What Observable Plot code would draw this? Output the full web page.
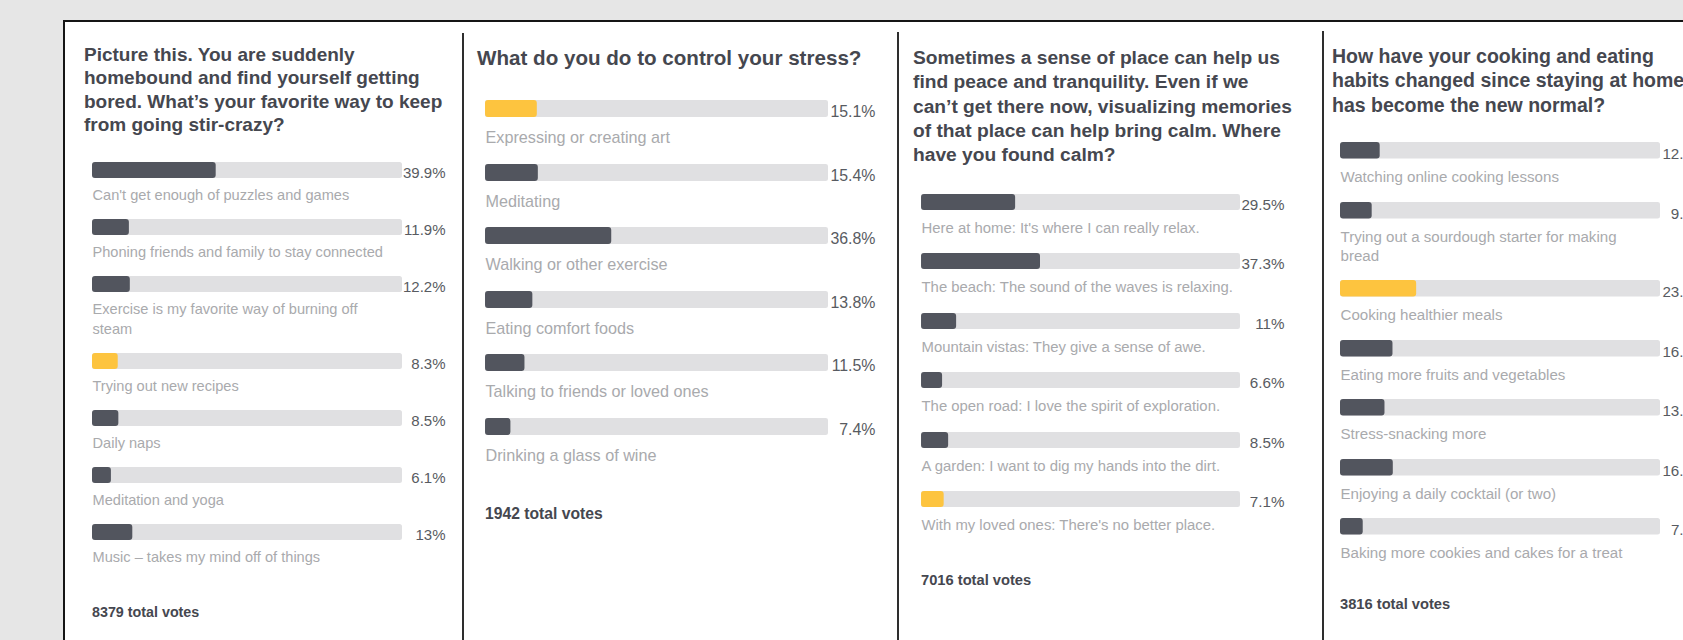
<!DOCTYPE html>
<html><head><meta charset="utf-8">
<script src="https://cdn.jsdelivr.net/npm/d3@7"></script>
<script src="https://cdn.jsdelivr.net/npm/@observablehq/plot@0.6"></script>
<style>
html,body{margin:0;padding:0}
body{width:1683px;height:640px;overflow:hidden;background:#e6e6e6;position:relative;font-family:"Liberation Sans",Arial,Helvetica,sans-serif}
#sheet{position:absolute;left:63px;top:20px;width:1700px;height:700px;background:#fff;border-top:2px solid #151515;border-left:2.5px solid #151515;box-sizing:border-box}
.divider{position:absolute;width:2px;background:#2e2e2e;height:640px}
.title{position:absolute;white-space:nowrap;font-weight:bold;color:#45474f}
.total{position:absolute;white-space:nowrap;font-weight:bold;color:#45474f}
.rows{position:absolute;width:800px}
.rows svg{display:block;overflow:visible;max-width:none !important}
</style></head><body>
<div id="sheet"></div>
<script>
// ---------- data ----------
const q1Question = ["Picture this. You are suddenly", "homebound and find yourself getting", "bored. What’s your favorite way to keep", "from going stir-crazy?"];
const q1Options = ["Can't get enough of puzzles and games", "Phoning friends and family to stay connected", "Exercise is my favorite way of burning off\nsteam", "Trying out new recipes", "Daily naps", "Meditation and yoga", "Music – takes my mind off of things"];
const q1Values = [39.9, 11.9, 12.2, 8.3, 8.5, 6.1, 13];
const q1Highlight = "Trying out new recipes";
const q1Votes = 8379;

const q2Question = ["What do you do to control your stress?"];
const q2Options = ["Expressing or creating art", "Meditating", "Walking or other exercise", "Eating comfort foods", "Talking to friends or loved ones", "Drinking a glass of wine"];
const q2Values = [15.1, 15.4, 36.8, 13.8, 11.5, 7.4];
const q2Highlight = "Expressing or creating art";
const q2Votes = 1942;

const q3Question = ["Sometimes a sense of place can help us", "find peace and tranquility. Even if we", "can’t get there now, visualizing memories", "of that place can help bring calm. Where", "have you found calm?"];
const q3Options = ["Here at home: It's where I can really relax.", "The beach: The sound of the waves is relaxing.", "Mountain vistas: They give a sense of awe.", "The open road: I love the spirit of exploration.", "A garden: I want to dig my hands into the dirt.", "With my loved ones: There's no better place."];
const q3Values = [29.5, 37.3, 11, 6.6, 8.5, 7.1];
const q3Highlight = "With my loved ones: There's no better place.";
const q3Votes = 7016;

const q4Question = ["How have your cooking and eating", "habits changed since staying at home", "has become the new normal?"];
const q4Options = ["Watching online cooking lessons", "Trying out a sourdough starter for making\nbread", "Cooking healthier meals", "Eating more fruits and vegetables", "Stress-snacking more", "Enjoying a daily cocktail (or two)", "Baking more cookies and cakes for a treat"];
const q4Values = [12.4, 9.9, 23.8, 16.4, 13.9, 16.5, 7.1];
const q4Highlight = "Cooking healthier meals";
const q4Votes = 3816;

// ---------- style / layout ----------
const FONT = '"Liberation Sans", Arial, Helvetica, sans-serif';
const TRACK = "#e0e0e2", DARK = "#52555e", YELLOW = "#fdc43f", VALUE = "#585b61", LABEL = "#a9aaad";

const layouts = [
  {titleX: 84, titleBase: 61, titleFs: 19, titleLh: 23.5, left: 92, trackW: 310, valueRight: 445, barH: 16, firstTop: 162, rowH: 57, lineH: 19.5, labelBase: 38, labelFs: 14.6, valueFs: 15, totalBase: 617, totalFs: 14.3},
  {titleX: 477, titleBase: 65, titleFs: 20.6, titleLh: 25, left: 485, trackW: 343, valueRight: 875, barH: 17, firstTop: 100, rowH: 63.6, lineH: 21, labelBase: 42, labelFs: 16.2, valueFs: 15.9, totalBase: 519, totalFs: 15.7},
  {titleX: 913, titleBase: 65, titleFs: 19.2, titleLh: 24.3, left: 921, trackW: 319, valueRight: 1284, barH: 16, firstTop: 194, rowH: 59.4, lineH: 19.5, labelBase: 39, labelFs: 14.9, valueFs: 15.2, totalBase: 585, totalFs: 14.7},
  {titleX: 1332, titleBase: 63, titleFs: 19.5, titleLh: 24.5, left: 1340, trackW: 320, valueRight: 1705, barH: 16.5, firstTop: 142, rowH: 59.5, lineH: 19.3, labelBase: 39.5, labelFs: 15.1, valueFs: 15.2, totalBase: 609, totalFs: 14.7}
];
const dividers = [{x: 462, top: 33}, {x: 897, top: 32}, {x: 1322, top: 31}];

function topFor(baseline, fs, lh) {
  return baseline - ((lh - 1.117 * fs) / 2 + 0.905 * fs);
}

for (const d of dividers) {
  const el = document.createElement("div");
  el.className = "divider";
  el.style.left = d.x + "px";
  el.style.top = d.top + "px";
  document.body.appendChild(el);
}

function panel(question, options, values, highlight, votes, cfg) {
  const t = document.createElement("div");
  t.className = "title";
  t.style.left = cfg.titleX + "px";
  t.style.top = topFor(cfg.titleBase, cfg.titleFs, cfg.titleLh) + "px";
  t.style.fontSize = cfg.titleFs + "px";
  t.style.lineHeight = cfg.titleLh + "px";
  question.forEach((line, i) => {
    if (i) t.appendChild(document.createElement("br"));
    t.appendChild(document.createTextNode(line));
  });
  document.body.appendChild(t);

  const box = document.createElement("div");
  box.className = "rows";
  box.style.left = cfg.left + "px";
  box.style.top = cfg.firstTop + "px";
  const valueGap = cfg.valueRight - cfg.left - cfg.trackW;
  const L = cfg.lineH / cfg.labelFs;
  options.forEach((opt, i) => {
    const lines = opt.split("\n").length;
    const h = cfg.rowH + (lines - 1) * cfg.lineH;
    const row = [{option: opt, value: values[i]}];
    const svg = Plot.plot({
      width: cfg.trackW + valueGap + 4,
      height: h,
      marginLeft: 0, marginRight: valueGap + 4, marginTop: 0, marginBottom: h - cfg.barH,
      x: {domain: [0, 100], axis: null},
      style: {fontFamily: FONT, background: "transparent", overflow: "visible", maxWidth: "none"},
      marks: [
        Plot.barX(row, {x1: 0, x2: 100, fill: TRACK, rx: 2.5}),
        Plot.barX(row, {x1: 0, x2: "value", fill: opt === highlight ? YELLOW : DARK, rx: 3}),
        Plot.text(row, {x: 100, text: d => d.value + "%", textAnchor: "end", dx: valueGap, dy: 3, fill: VALUE, fontSize: cfg.valueFs}),
        Plot.text(row, {x: 0, frameAnchor: "bottom", text: "option", textAnchor: "start", lineAnchor: "top", lineHeight: L, dy: cfg.labelBase - cfg.barH - 0.71 * L * cfg.labelFs, fill: LABEL, fontSize: cfg.labelFs})
      ]
    });
    box.appendChild(svg);
  });
  document.body.appendChild(box);

  const tot = document.createElement("div");
  tot.className = "total";
  tot.style.left = cfg.left + "px";
  tot.style.fontSize = cfg.totalFs + "px";
  tot.style.lineHeight = cfg.totalFs + "px";
  tot.style.top = topFor(cfg.totalBase, cfg.totalFs, cfg.totalFs) + "px";
  tot.textContent = votes + " total votes";
  document.body.appendChild(tot);
}

panel(q1Question, q1Options, q1Values, q1Highlight, q1Votes, layouts[0]);
panel(q2Question, q2Options, q2Values, q2Highlight, q2Votes, layouts[1]);
panel(q3Question, q3Options, q3Values, q3Highlight, q3Votes, layouts[2]);
panel(q4Question, q4Options, q4Values, q4Highlight, q4Votes, layouts[3]);
</script>
</body></html>
